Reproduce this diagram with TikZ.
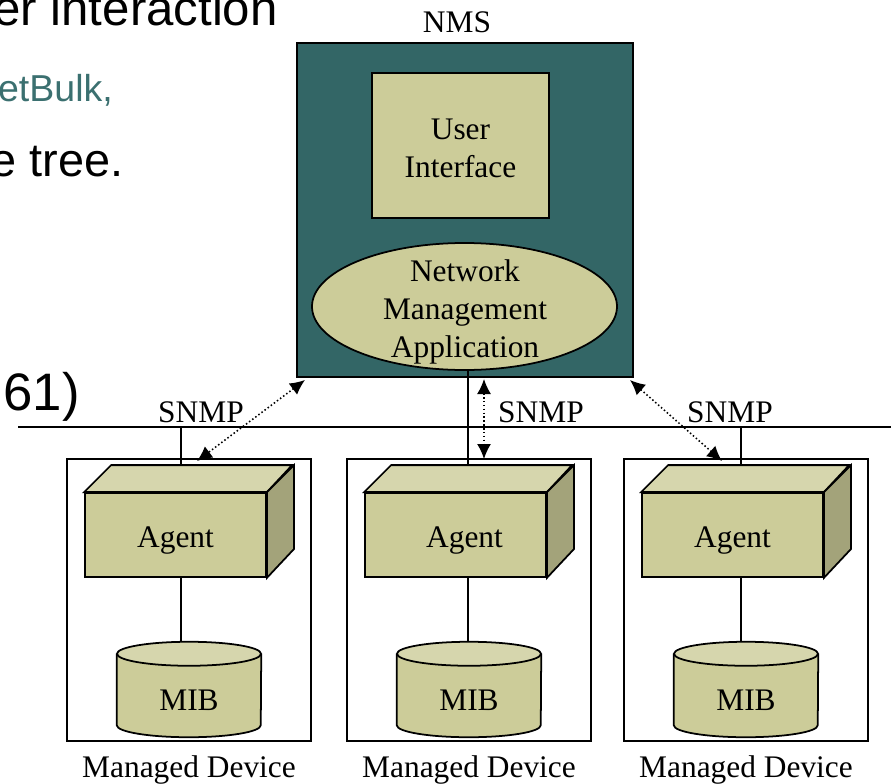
\documentclass[tikz,border=0pt]{standalone}
\usepackage{fontspec}
\setmainfont{Liberation Serif}
\newfontfamily\slidefont{Liberation Sans}
\usepackage{tikz}
\usetikzlibrary{positioning}
\usetikzlibrary{arrows.meta}
\usetikzlibrary{shapes.geometric}
\definecolor{nms-teal}{RGB}{51,102,102}
\definecolor{khaki}{RGB}{204,204,153}
\definecolor{khaki-top}{RGB}{214,214,173}
\definecolor{khaki-side}{RGB}{163,163,122}
\definecolor{slide-teal}{RGB}{59,112,112}

\begin{document}
\begin{tikzpicture}[x=0.03cm, y=-0.03cm, >={Latex[length=0.45cm,width=0.42cm]},
txt/.style={font=\fontsize{26.8}{32.8}\selectfont, align=center},
box/.style={rectangle, draw, line width=1.5pt},
device/.style={rectangle, draw, line width=0.9pt, minimum width=7.32cm, minimum height=8.46cm},
agentbox/.style={box, fill=khaki, minimum width=5.43cm, minimum height=2.52cm},
mibbox/.style={minimum width=4.32cm, minimum height=2.85cm, inner sep=0},
link/.style={line width=1.1pt},
snmp/.style={<->, dotted, line width=1.3pt}]
\useasboundingbox (0,0) rectangle (891,784);
\clip (0,0) rectangle (891,784);

% slide text behind the figure
\node[anchor=base east, inner sep=0, font=\slidefont\fontsize{42}{46}\selectfont] (line1) at (278,25) {er interaction};
\node[anchor=base east, inner sep=0, text=slide-teal, font=\slidefont\fontsize{32}{36}\selectfont] (line2) at (113,101) {etBulk,};
\node[anchor=base east, inner sep=0, font=\slidefont\fontsize{40}{44}\selectfont] (line3) at (124,176) {e tree.};
\node[anchor=base east, inner sep=0, font=\slidefont\fontsize{45}{50}\selectfont] (line4) at (80,410) {61)};

% NMS
\node[box, fill=nms-teal, minimum width=10.08cm, minimum height=10.02cm] (nms) at (465,210) {};
\node[txt] (nmslabel) at (457,22) {NMS};
\node[box, fill=khaki, minimum width=5.31cm, minimum height=4.35cm] (ui) at (460.5,145.5) {};
\node[txt] (uitext) at (460.5,148.5) {User\\Interface};
\node[ellipse, draw, line width=1.5pt, fill=khaki, minimum width=9.15cm, minimum height=3.81cm, inner sep=0] (nma) at (464.5,306.5) {};
\node[txt] (nmatext) at (465,312) {Network\\Management\\Application};

% bus
\coordinate (busL) at (18,427);
\coordinate (busR) at (891,427);
\draw[line width=1.5pt] (busL) -- (busR);

% managed devices
\foreach \i/\x/\c/\s in {1/67/181/0, 2/347/468/9, 3/624/741/0}{
  \node[device] (dev\i) at (\x+122,600) {};
  \node[txt, below=0.3cm of dev\i] (devlabel\i) {Managed Device};
  % agent box
  \node[agentbox] (agent\i) at (\x+108.5,535) {};
  \draw[line width=1.5pt, fill=khaki-top] (agent\i.north west) -- ++(27,-27) -- ++(181,0) -- (agent\i.north east) -- cycle;
  \draw[line width=1.5pt, fill=khaki-side] (agent\i.north east) -- ++(27,-27) -- ++(0,84) -- (agent\i.south east) -- cycle;
  \node[txt] (agenttext\i) at (\x+108.5+\s,541) {Agent};
  \coordinate (top\i) at (\c,466);
  % mib cylinder
  \node[mibbox] (mib\i) at (\x+122,689.5) {};
  \draw[line width=1.5pt, fill=khaki] ([yshift=-0.36cm]mib\i.north west) -- ([yshift=0.36cm]mib\i.south west) arc[start angle=180, end angle=360, x radius=2.16cm, y radius=0.36cm] -- ([yshift=-0.36cm]mib\i.north east);
  \draw[line width=1.5pt, fill=khaki-top] ([yshift=-0.36cm]mib\i.north) ellipse[x radius=2.16cm, y radius=0.36cm];
  \node[txt] (mibtext\i) at ([yshift=-0.33cm]mib\i.center) {MIB};
  \draw[link] (agent\i.south -| top\i) -- (mib\i.north -| top\i);
}

% links to the bus
\draw[link] (top1 |- busL) -- (top1);
\draw[link] (top3 |- busL) -- (top3);
\draw[link] (nma.south -| top2) -- (top2);

% snmp
\node[txt] (snmp1) at (201,412) {SNMP};
\node[txt] (snmp2) at (541,412) {SNMP};
\node[txt] (snmp3) at (730,412) {SNMP};

\coordinate (l1) at (305,380);
\coordinate (l2) at (197,461);
\coordinate (m1) at (484,379);
\coordinate (m2) at (484,459);
\coordinate (r1) at (630,380);
\coordinate (r2) at (722,461);
\draw[snmp] (l1) -- (l2);
\draw[snmp] (m1) -- (m2);
\draw[snmp] (r1) -- (r2);

\end{tikzpicture}
\end{document}
